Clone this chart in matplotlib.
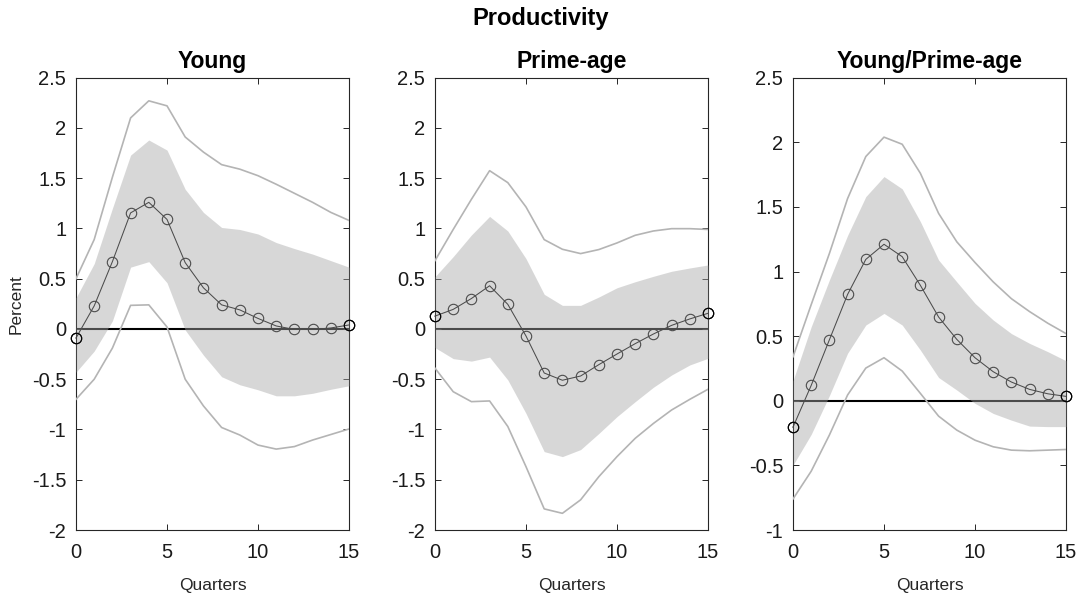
import matplotlib
matplotlib.use("Agg")
import matplotlib.pyplot as plt
import numpy as np

plt.rcParams['font.family'] = ['Liberation Sans', 'DejaVu Sans']
plt.rcParams['axes.unicode_minus'] = False

quarters = np.arange(16)

# ---- Young ----
young_mean = [-0.09, 0.23, 0.67, 1.155, 1.26, 1.09, 0.66, 0.41, 0.24, 0.19, 0.105, 0.03, -0.005, -0.005, 0.01, 0.04]
young_up90 = [0.50, 0.89, 1.51, 2.10, 2.27, 2.22, 1.91, 1.76, 1.635, 1.59, 1.525, 1.44, 1.35, 1.26, 1.16, 1.08]
young_up68 = [0.31, 0.65, 1.20, 1.73, 1.88, 1.78, 1.39, 1.16, 1.01, 0.99, 0.945, 0.86, 0.80, 0.745, 0.68, 0.615]
young_lo68 = [-0.43, -0.22, 0.08, 0.615, 0.67, 0.46, -0.01, -0.26, -0.475, -0.555, -0.605, -0.665, -0.665, -0.64, -0.60, -0.565]
young_lo90 = [-0.70, -0.50, -0.19, 0.235, 0.24, 0.02, -0.50, -0.765, -0.98, -1.055, -1.155, -1.195, -1.17, -1.105, -1.05, -0.995]

# ---- Prime-age ----
prime_mean = [0.128, 0.195, 0.303, 0.43, 0.245, -0.07, -0.438, -0.51, -0.468, -0.355, -0.249, -0.146, -0.05, 0.036, 0.10, 0.156]
prime_up90 = [0.68, 0.99, 1.29, 1.575, 1.456, 1.214, 0.889, 0.793, 0.75, 0.79, 0.856, 0.932, 0.975, 0.998, 0.998, 0.99]
prime_up68 = [0.52, 0.72, 0.935, 1.12, 0.975, 0.70, 0.345, 0.235, 0.235, 0.318, 0.41, 0.47, 0.524, 0.574, 0.607, 0.637]
prime_lo68 = [-0.185, -0.295, -0.32, -0.28, -0.507, -0.84, -1.22, -1.27, -1.20, -1.04, -0.872, -0.723, -0.58, -0.458, -0.358, -0.292]
prime_lo90 = [-0.39, -0.624, -0.723, -0.716, -0.97, -1.37, -1.79, -1.834, -1.70, -1.47, -1.27, -1.088, -0.94, -0.806, -0.70, -0.60]

# ---- Young/Prime-age ----
ratio_mean = [-0.204, 0.119, 0.472, 0.823, 1.094, 1.211, 1.115, 0.893, 0.648, 0.475, 0.333, 0.225, 0.145, 0.088, 0.054, 0.034]
ratio_up90 = [0.34, 0.744, 1.14, 1.565, 1.89, 2.04, 1.985, 1.76, 1.45, 1.23, 1.07, 0.92, 0.79, 0.69, 0.60, 0.52]
ratio_up68 = [0.155, 0.573, 0.935, 1.28, 1.58, 1.735, 1.64, 1.386, 1.089, 0.92, 0.754, 0.625, 0.52, 0.444, 0.38, 0.31]
ratio_lo68 = [-0.498, -0.26, 0.04, 0.368, 0.586, 0.676, 0.586, 0.392, 0.18, 0.083, -0.02, -0.098, -0.15, -0.196, -0.20, -0.20]
ratio_lo90 = [-0.76, -0.545, -0.265, 0.045, 0.253, 0.333, 0.23, 0.057, -0.119, -0.227, -0.305, -0.356, -0.382, -0.387, -0.382, -0.377]

titles = ["Young", "Prime-age", "Young/Prime-age"]
ylims = [(-2, 2.5), (-2, 2.5), (-1, 2.5)]
xticks = [0, 5, 10, 15]

panels = [
    (young_mean, young_up90, young_up68, young_lo68, young_lo90),
    (prime_mean, prime_up90, prime_up68, prime_lo68, prime_lo90),
    (ratio_mean, ratio_up90, ratio_up68, ratio_lo68, ratio_lo90),
]

fig = plt.figure(figsize=(10.81, 5.97), dpi=100)
W, H = 1081.0, 597.0
lefts_px = [76, 435, 793]
ax_w_px = 273
top_px, bot_px = 77.7, 530

def fmt(v):
    s = ("%.1f" % v)
    if s.endswith(".0"):
        s = s[:-2]
    if s == "-0":
        s = "0"
    return s

spine_col = "#262626"
for i, (mean, up90, up68, lo68, lo90) in enumerate(panels):
    ax = fig.add_axes([lefts_px[i] / W, 1 - bot_px / H, ax_w_px / W, (bot_px - top_px) / H])
    ax.plot([quarters[0], quarters[-1]], [0, 0], color="black", lw=1.5, zorder=1.5,
            solid_capstyle="butt")
    ax.plot(quarters, mean, color="black", lw=0.75, marker="o", ms=7.5,
            mfc="none", mec="black", mew=0.8, zorder=2, clip_on=False)
    ax.fill_between(quarters, lo68, up68, color=(0.66, 0.66, 0.66), alpha=0.45,
                    lw=0, zorder=3)
    ax.plot(quarters, up90, color="#b4b4b4", lw=1.2, zorder=4)
    ax.plot(quarters, lo90, color="#b4b4b4", lw=1.2, zorder=4)
    ends = [0, len(quarters) - 1]
    ax.plot(quarters[ends], np.array(mean)[ends], ls="none", marker="o", ms=7.5,
            mfc="none", mec="black", mew=0.8, zorder=5, clip_on=False)

    ax.set_xlim(0, 15)
    ax.set_ylim(*ylims[i])
    ax.set_xticks(xticks)
    ax.set_xticklabels([str(t) for t in xticks])
    yt = np.arange(ylims[i][0], ylims[i][1] + 0.001, 0.5)
    ax.set_yticks(yt)
    ax.set_yticklabels([fmt(v) for v in yt])
    ax.tick_params(direction="in", length=4.5, width=0.7, color=spine_col,
                   top=True, right=True, labelsize=14.5, labelcolor="#1a1a1a")
    ax.tick_params(axis="x", pad=9)
    ax.tick_params(axis="y", pad=7)
    for s in ax.spines.values():
        s.set_color(spine_col)
        s.set_linewidth(0.8)
    ax.set_title(titles[i], fontsize=16.5, fontweight="bold", pad=7)
    ax.set_xlabel("Quarters", fontsize=12.5, labelpad=12, color="#262626")
    if i == 0:
        ax.set_ylabel("Percent", fontsize=12.5, labelpad=6, color="#262626")

fig.text(0.5, 1 - 18 / H, "Productivity", ha="center", va="center",
         fontsize=17, fontweight="bold")

fig.savefig("out.png", dpi=100, facecolor="white")
